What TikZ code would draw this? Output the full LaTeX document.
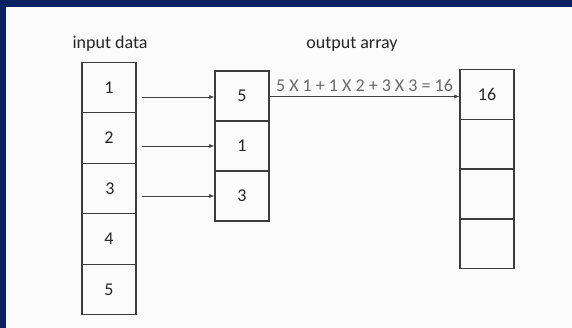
\documentclass[tikz,border=0pt]{standalone}
\usepackage{fontspec}
\setmainfont{Carlito}
\usetikzlibrary{arrows.meta}
\definecolor{navy}{HTML}{0B2262}
\definecolor{bg}{HTML}{FBFBFB}
\definecolor{boxline}{HTML}{3C3C3C}
\definecolor{eqgray}{HTML}{6A6A6A}
\begin{document}
\begin{tikzpicture}[x=1pt,y=-1pt,
  cell/.style={draw=boxline,line width=1.3pt,minimum width=54pt,inner sep=0pt,font=\fontsize{18}{18}\selectfont,text=black!85},
  ptr/.style={draw=black!75,line width=0.6pt,-{Latex[length=5pt,width=4pt]}},
  lbl/.style={font=\fontsize{18}{18}\selectfont,text=black!85}]
\fill[navy] (0,0) rectangle (572,328);
\fill[bg] (6,7) rectangle (572,328);
\useasboundingbox (0,0) rectangle (572,328);
% input data
\node[lbl] (inlbl) at (110,44) {input data};
\node[cell,minimum height=50.5pt] (i1) at (109,87.5) {1};
\node[cell,minimum height=50.5pt] (i2) at (109,138) {2};
\node[cell,minimum height=50.5pt] (i3) at (109,188.5) {\hspace{2pt}3};
\node[cell,minimum height=50.5pt] (i4) at (109,239) {4};
\node[cell,minimum height=50.5pt] (i5) at (109,289.5) {5};
% middle
\node[cell,minimum height=50pt] (m1) at (242,96) {5};
\node[cell,minimum height=50pt] (m2) at (242,146) {1};
\node[cell,minimum height=50pt] (m3) at (242,196) {3};
% output
\node[lbl] (outlbl) at (352,44) {output array};
\node[cell,minimum height=49.5pt] (o1) at (487,94.5) {16};
\node[cell,minimum height=49.5pt] (o2) at (487,144) {};
\node[cell,minimum height=49.5pt] (o3) at (487,194) {};
\node[cell,minimum height=49.5pt] (o4) at (487,244) {};
% arrows
\coordinate (a1) at (142,97);
\coordinate (a2) at (142,146);
\coordinate (a3) at (142,196);
\draw[ptr] (a1) -- (m1.west |- a1);
\draw[ptr] (a2) -- (m2.west |- a2);
\draw[ptr] (a3) -- (m3.west |- a3);
\draw[ptr] (m1.east |- 0,96.5) -- (o1.west |- 0,96.5)
  node[midway,above=1pt,font=\fontsize{18}{18}\selectfont,text=eqgray] (eq) {5 X 1 + 1 X 2 + 3 X 3 = 16};
\end{tikzpicture}
\end{document}
